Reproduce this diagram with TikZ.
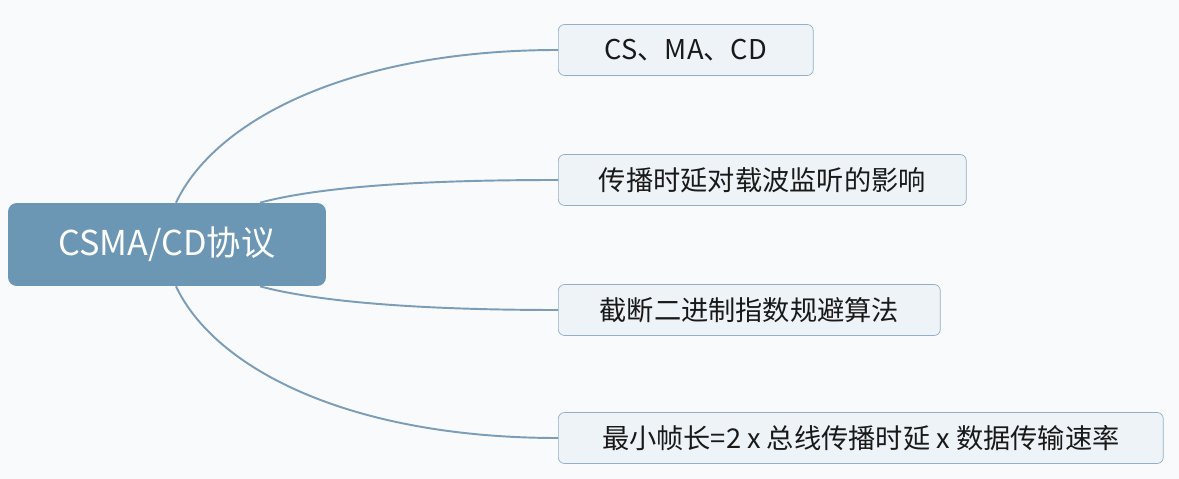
\documentclass[tikz,border=0pt]{standalone}
\usepackage{fontspec}
\setmainfont{Noto Sans CJK SC}
\usepackage{xcolor}
\usetikzlibrary{calc}
\definecolor{rootblue}{HTML}{6B97B5}
\definecolor{leafblue}{HTML}{EEF3F8}
\definecolor{leafedge}{HTML}{94AEC6}
\definecolor{linkblue}{HTML}{7B9DB8}
\definecolor{paper}{HTML}{F9FAFB}

\begin{document}
\begin{tikzpicture}[
  x=0.02cm, y=-0.02cm,
  root/.style={fill=rootblue,rounded corners=5pt,text=white,align=center,
    minimum width=6.36cm,minimum height=1.66cm,font=\fontsize{19.5}{22}\selectfont},
  leaf/.style={draw=leafedge,fill=leafblue,rounded corners=3.5pt,anchor=west,
    minimum height=1.02cm,inner xsep=0pt,font=\fontsize{15.5}{18}\selectfont,text=black!90},
  branch/.style={draw=linkblue,line width=1.1pt}
]
\fill[paper] (0,0) rectangle (1179,479);
\useasboundingbox (0,0) rectangle (1179,479);
\node[root] (root) at (167,244.5) {CSMA/CD协议};
\node[leaf,minimum width=5.1cm] (cs) at (558,50) {CS、MA、CD};
\node[leaf,minimum width=8.16cm] (delay) at (558,180) {传播时延对载波监听的影响};
\node[leaf,minimum width=7.64cm] (backoff) at (558,310) {截断二进制指数规避算法};
\node[leaf,minimum width=12.1cm] (minframe) at (558,438) {最小帧长=2 x 总线传播时延 x 数据传输速率};
\draw[branch] ($(root.north)+(9,0)$) .. controls (215,120) and (350,50) .. (cs.west);
\draw[branch] ($(root.north)+(93,0)$) .. controls (330,184) and (450,180) .. (delay.west);
\draw[branch] ($(root.south)+(93,0)$) .. controls (330,305) and (450,310) .. (backoff.west);
\draw[branch] ($(root.south)+(9,0)$) .. controls (215,369) and (350,438) .. (minframe.west);
\end{tikzpicture}
\end{document}
